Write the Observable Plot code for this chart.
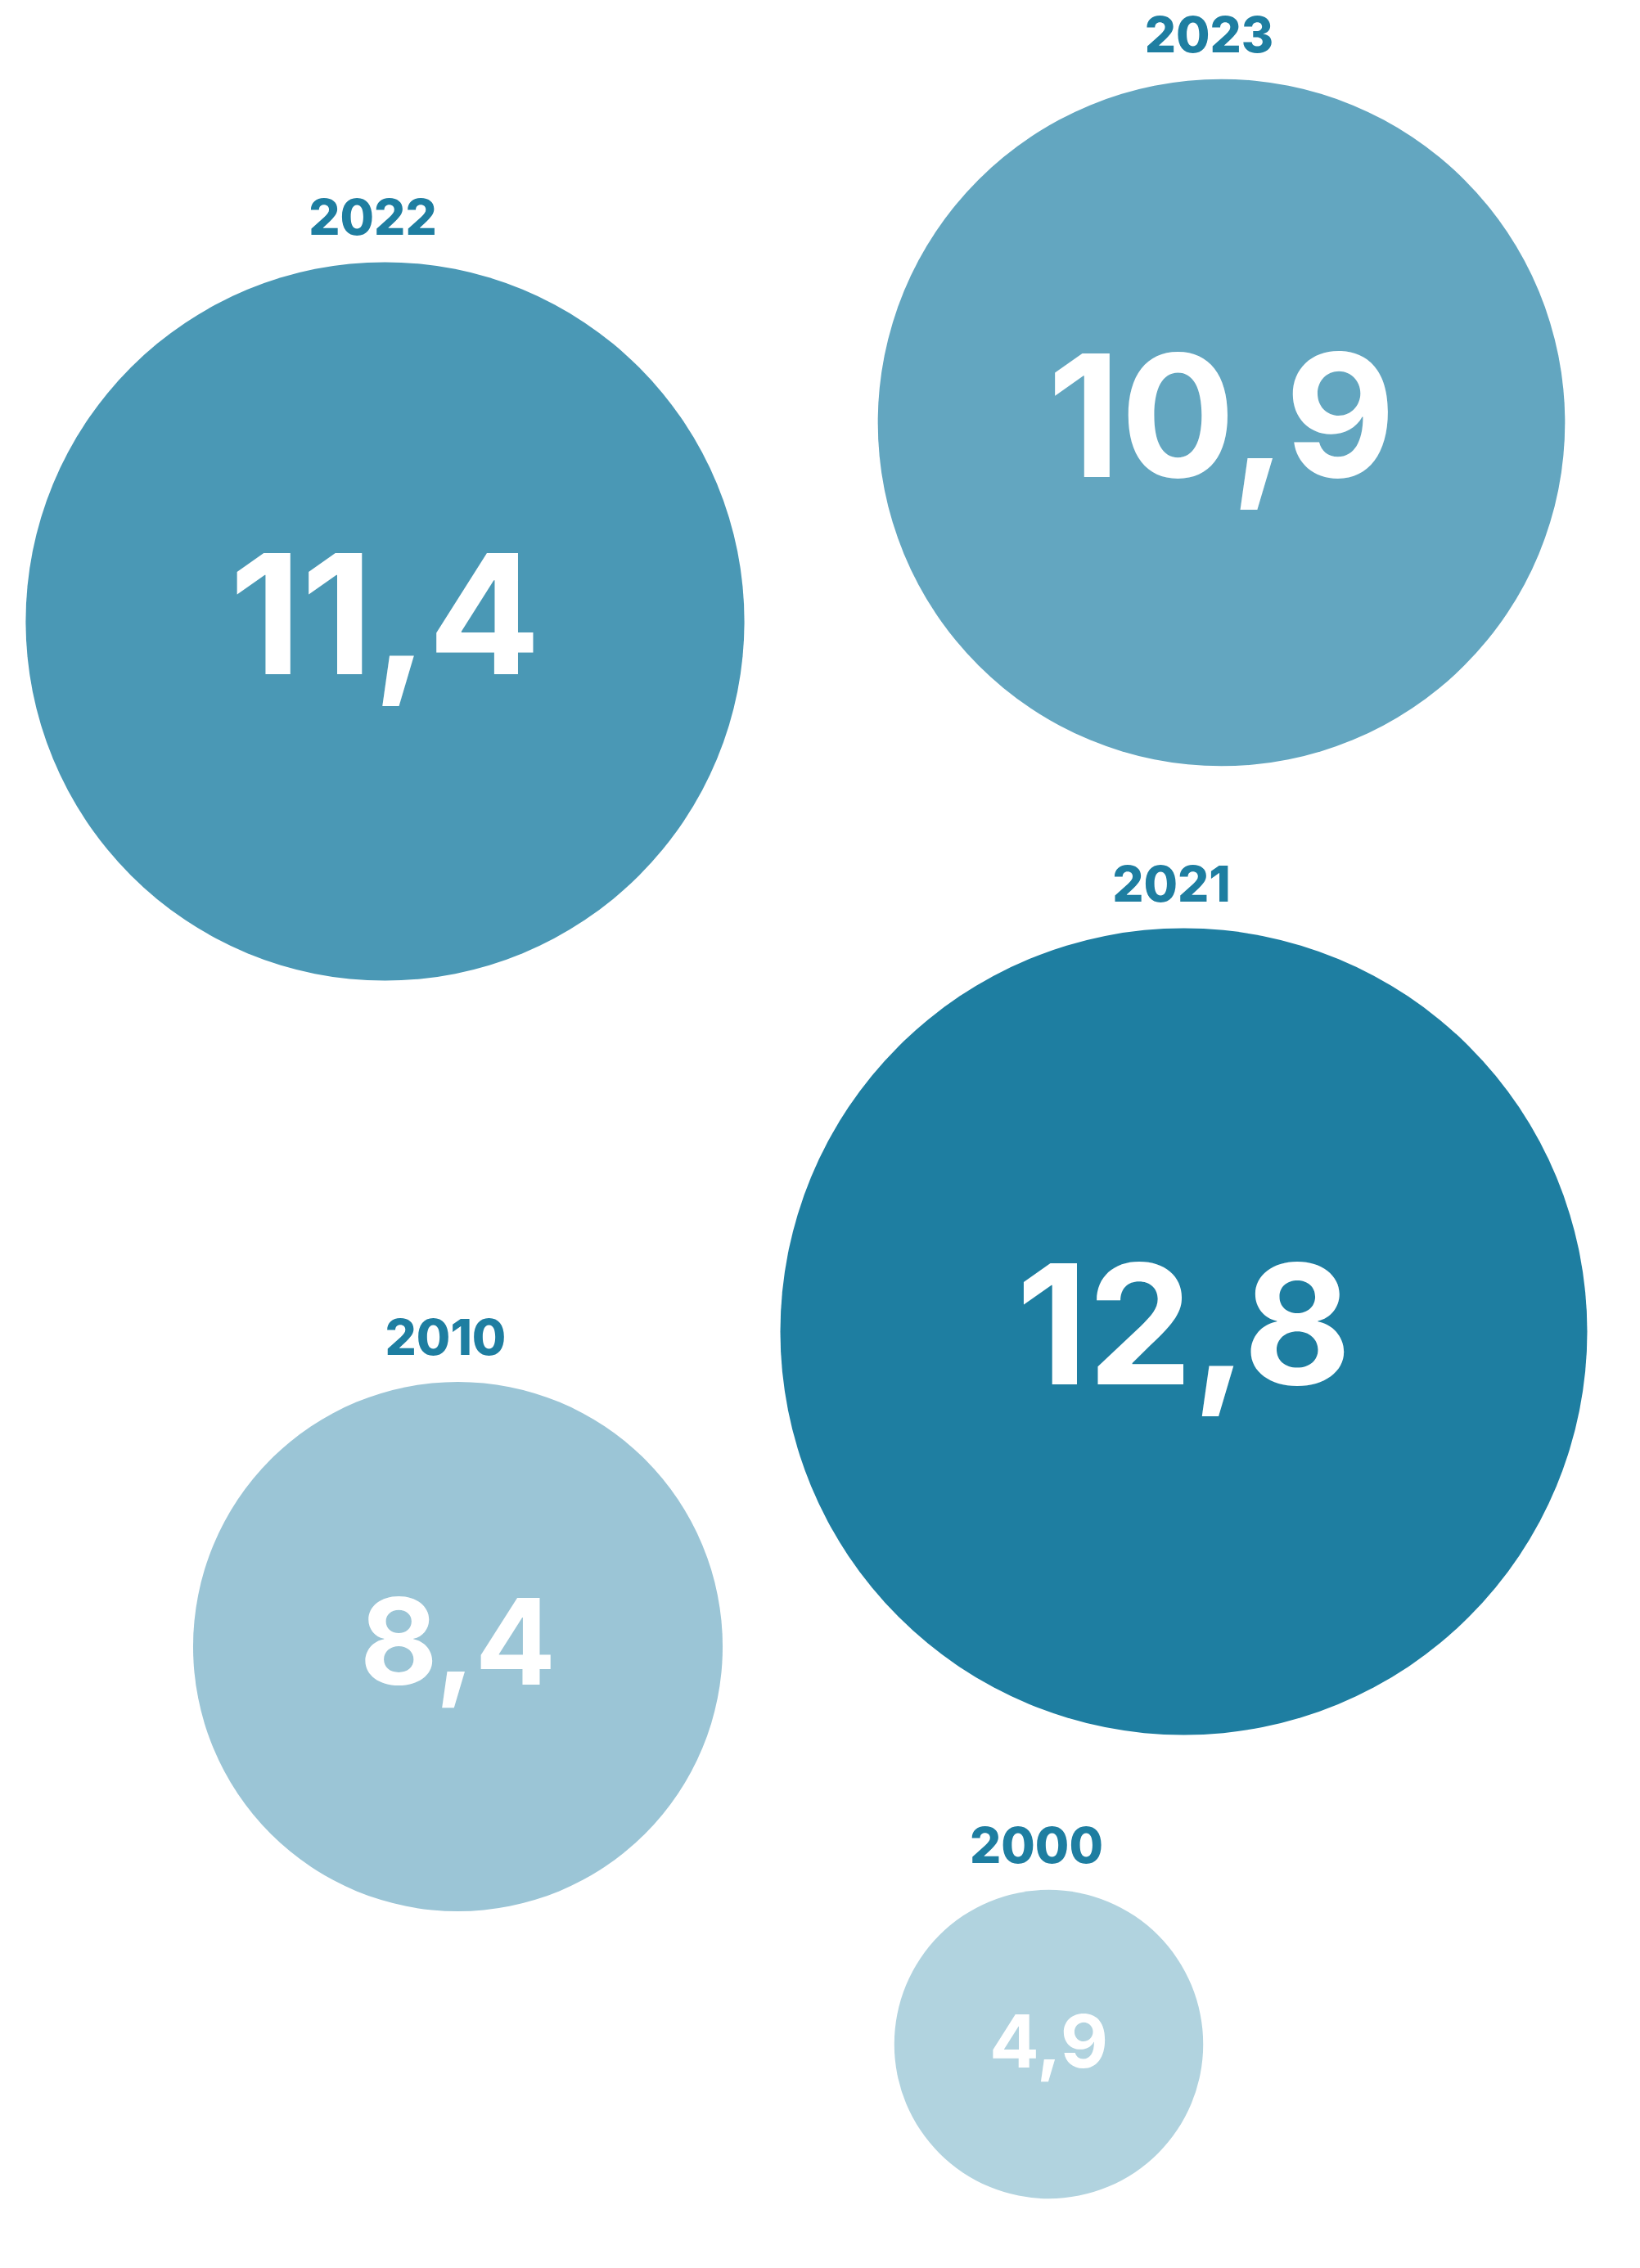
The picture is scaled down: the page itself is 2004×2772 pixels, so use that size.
<!DOCTYPE html>
<html>
<head>
<meta charset="utf-8">
<script src="https://cdn.jsdelivr.net/npm/d3@7"></script>
<script src="https://cdn.jsdelivr.net/npm/@observablehq/plot@0.6"></script>
<style>
  html, body { margin: 0; padding: 0; background: #ffffff; }
  #chart svg { display: block; }
</style>
</head>
<body>
<div id="chart"></div>
<script>
// ---- data ----
const years  = ["2000", "2010", "2021", "2022", "2023"];
const values = [4.9, 8.4, 12.8, 11.4, 10.9];

// ---- bubble layout (centre positions in chart units) ----
const layoutX = [1281, 559, 1446, 470, 1492];
const layoutY = [2498, 2012, 1627, 759, 516];

// ---- styles ----
const fillColors = ["#b1d3df", "#9bc5d6", "#1e7ea1", "#4a98b5", "#63a6c0"];
const valueFontSizes = [90, 146, 203, 203, 208];
const labelColor = "#1e7ea1";

const W = 2004, H = 2772;
const rScale = d3.scaleLinear([0, 12.8], [0, 493]);

const rows = years.map((year, i) => ({
  year,
  value: values[i],
  cx: layoutX[i],
  cy: layoutY[i],
  fontSize: valueFontSizes[i],
  labelY: layoutY[i] - rScale(values[i]) - 33
}));

const fmt = v => v.toFixed(1).replace(".", ",");
const font = "Inter, Roboto, sans-serif";

const chart = Plot.plot({
  width: W,
  height: H,
  margin: 0,
  style: { background: "#ffffff", fontFamily: font },
  x: { domain: [0, W], range: [0, W], axis: null },
  y: { domain: [0, H], range: [0, H], axis: null },
  r: { type: "linear", domain: rScale.domain(), range: rScale.range() },
  color: { type: "ordinal", domain: years, range: fillColors },
  marks: [
    Plot.dot(rows, { x: "cx", y: "cy", r: "value", fill: "year", stroke: null }),
    Plot.text(rows, {
      x: "cx", y: "cy", text: d => fmt(d.value),
      fill: "#ffffff", fontSize: d => d.fontSize, fontWeight: "bold",
      fontFamily: font,
      textAnchor: "middle", lineAnchor: "middle"
    }),
    Plot.text(rows, {
      x: "cx", y: "labelY", text: "year", dx: -15,
      fill: labelColor, fontSize: 60, fontWeight: 800,
      fontFamily: font,
      textAnchor: "middle", lineAnchor: "bottom"
    })
  ]
});
document.getElementById("chart").appendChild(chart);
</script>
</body>
</html>
